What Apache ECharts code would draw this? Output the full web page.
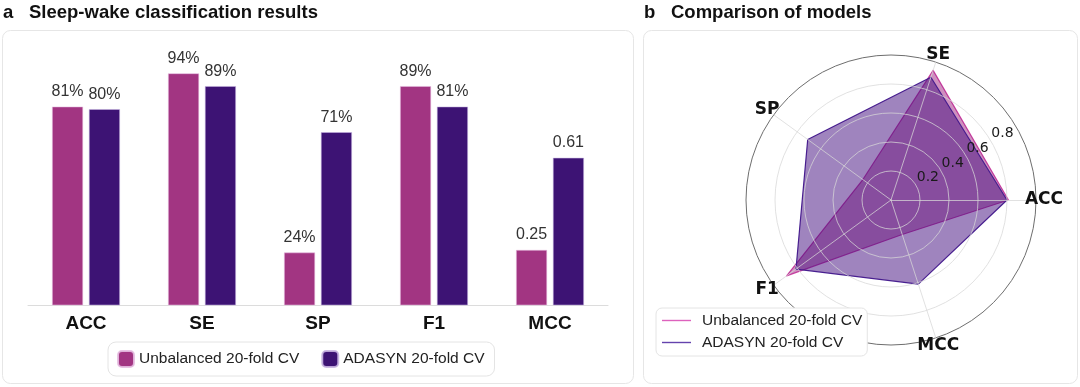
<!DOCTYPE html>
<html>
<head>
<meta charset="utf-8">
<script src="https://cdn.jsdelivr.net/npm/echarts@6/dist/echarts.min.js"></script>
<style>
html,body{margin:0;padding:0;background:#fff;}
#chart{width:1080px;height:387px;}
</style>
</head>
<body>
<div id="chart"></div>
<script>
// ---- data ----
const categories = ['ACC', 'SE', 'SP', 'F1', 'MCC'];
const seriesNames = ['Unbalanced 20-fold CV', 'ADASYN 20-fold CV'];
const unbalancedValues = [0.81, 0.94, 0.24, 0.89, 0.25];
const adasynValues = [0.80, 0.89, 0.71, 0.81, 0.61];
const unbalancedLabels = ['81%', '94%', '24%', '89%', '0.25'];
const adasynLabels = ['80%', '89%', '71%', '81%', '0.61'];
const radarTicks = [0.2, 0.4, 0.6, 0.8];
const panelTitles = ['Sleep-wake classification results', 'Comparison of models'];
const panelLetters = ['a', 'b'];

const chart = echarts.init(document.getElementById('chart'), null, {renderer: 'canvas'});

const SANS = 'Liberation Sans, Arial, Helvetica, sans-serif';
const DEJAVU = 'DejaVu Sans, sans-serif';
const C_UNB = '#a23582';
const C_ADA = '#3d1374';
const titleStyle = {fontFamily: SANS, fontWeight: 'bold', fontSize: 18.5, color: '#111'};
const GRID_C = 'rgba(215,215,215,0.75)';

const option = {
  backgroundColor: '#ffffff',
  animation: false,
  graphic: [
    {type: 'rect', z: -10, shape: {x: 2.5, y: 30.5, width: 631, height: 353, r: 8},
     style: {fill: '#fff', stroke: '#e6e6e6', lineWidth: 1}},
    {type: 'rect', z: -10, shape: {x: 643.5, y: 30.5, width: 434, height: 353, r: 8},
     style: {fill: '#fff', stroke: '#e6e6e6', lineWidth: 1}}
  ],
  title: [
    {text: panelLetters[0], left: 3, top: 3, padding: 0, textStyle: titleStyle},
    {text: panelTitles[0], left: 29, top: 3, padding: 0, textStyle: titleStyle},
    {text: panelLetters[1], left: 644, top: 3, padding: 0, textStyle: titleStyle},
    {text: panelTitles[1], left: 671, top: 3, padding: 0, textStyle: titleStyle}
  ],
  legend: [
    {
      data: seriesNames.map((n, i) => ({name: n, icon: 'roundRect', itemStyle: {color: i === 0 ? C_UNB : C_ADA}})),
      left: 108, top: 342,
      orient: 'horizontal',
      itemWidth: 16, itemHeight: 16, itemGap: 22,
      padding: [8, 10, 8, 9],
      backgroundColor: '#fff', borderColor: '#e4e4e4', borderWidth: 1, borderRadius: 8,
      textStyle: {fontFamily: SANS, fontSize: 15.5, color: '#222'},
      selectedMode: false
    },
    {
      data: seriesNames.map((n, i) => ({name: n, icon: 'rect', itemStyle: {color: i === 0 ? '#dd62bd' : '#6443ad', borderWidth: 0}})),
      left: 656, top: 308,
      orient: 'vertical',
      itemWidth: 29, itemHeight: 1.4, itemGap: 5,
      padding: [4, 5, 5, 6],
      backgroundColor: '#fff', borderColor: '#e4e4e4', borderWidth: 1, borderRadius: 6,
      textStyle: {fontFamily: SANS, fontSize: 15.5, color: '#222', lineHeight: 17, padding: [0, 0, 0, 6]},
      selectedMode: false,
      z: 20
    }
  ],
  grid: {left: 28, right: 472, top: 58, bottom: 82, containLabel: false},
  xAxis: {
    type: 'category', data: categories,
    axisLine: {show: true, lineStyle: {color: '#dcdcdc', width: 1}},
    axisTick: {show: false},
    axisLabel: {fontFamily: SANS, fontWeight: 'bold', fontSize: 19, color: '#111', margin: 9}
  },
  yAxis: {type: 'value', min: 0.035, max: 1, show: false, splitLine: {show: false}},
  radar: {
    center: [891, 200], radius: 145, startAngle: 0, shape: 'circle',
    splitNumber: 5, z: 4,
    indicator: categories.map(c => ({name: c, min: 0, max: 1})),
    axisName: {fontFamily: DEJAVU, fontWeight: 'bold', fontSize: 17, color: '#111', align: 'center', verticalAlign: 'middle'},
    nameGap: 8,
    axisLine: {lineStyle: {color: GRID_C, width: 1}},
    splitLine: {lineStyle: {color: [GRID_C, GRID_C, GRID_C, GRID_C, GRID_C, '#6e6e6e'], width: 1}},
    splitArea: {show: false},
    axisTick: {show: false},
    axisLabel: {show: false}
  },
  polar: {center: [891, 200], radius: [14, 159]},
  angleAxis: {
    type: 'value', startAngle: 31, min: 0, max: 360,
    axisLine: {show: false}, axisTick: {show: false}, axisLabel: {show: false}, splitLine: {show: false}
  },
  radiusAxis: {
    type: 'value', min: 0, max: 1, interval: 0.2, z: 10,
    axisLine: {show: false}, axisTick: {show: false}, splitLine: {show: false},
    axisLabel: {
      show: true, margin: 0, align: 'center', verticalAlign: 'middle',
      fontFamily: DEJAVU, fontSize: 14, color: '#1a1a1a',
      formatter: v => {
        const t = radarTicks.find(x => Math.abs(x - v) < 1e-6);
        return t === undefined ? '' : String(t);
      }
    }
  },
  series: [
    {
      name: seriesNames[0], type: 'bar', data: unbalancedValues,
      barWidth: 31, barGap: '19%',
      itemStyle: {color: C_UNB, borderColor: 'rgba(230,190,225,0.9)', borderWidth: 0.6},
      label: {show: true, position: 'top', distance: 7, fontFamily: SANS, fontSize: 16, color: '#333',
              formatter: p => unbalancedLabels[p.dataIndex]}
    },
    {
      name: seriesNames[1], type: 'bar', data: adasynValues,
      barWidth: 31,
      itemStyle: {color: C_ADA, borderColor: 'rgba(200,180,225,0.9)', borderWidth: 0.6},
      label: {show: true, position: 'top', distance: 7, fontFamily: SANS, fontSize: 16, color: '#333',
              formatter: p => adasynLabels[p.dataIndex]}
    },
    {
      name: 'radar-unbalanced', type: 'radar', symbol: 'none',
      data: [{value: unbalancedValues, name: seriesNames[0]}],
      lineStyle: {color: '#d046a8', width: 1.2},
      areaStyle: {color: 'rgb(160,34,128)', opacity: 0.5},
      z: 2
    },
    {
      name: 'radar-adasyn', type: 'radar', symbol: 'none',
      data: [{value: adasynValues, name: seriesNames[1]}],
      lineStyle: {color: '#4b2595', width: 1.2},
      areaStyle: {color: 'rgb(63,10,125)', opacity: 0.5},
      z: 3
    }
  ]
};
chart.setOption(option);
</script>
</body>
</html>
